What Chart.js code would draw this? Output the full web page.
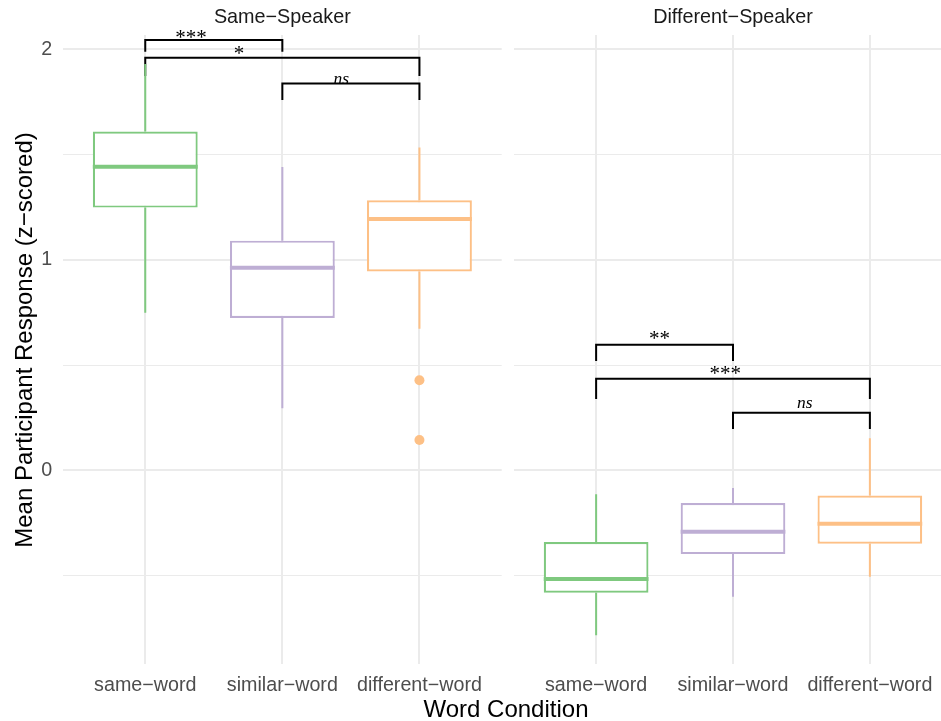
<!DOCTYPE html>
<html>
<head>
<meta charset="utf-8">
<script src="https://cdn.jsdelivr.net/npm/chart.js@4.4.1/dist/chart.umd.min.js"></script>
<style>
  html, body { margin: 0; padding: 0; background: #fff; overflow: hidden; }
  #wrap { position: relative; width: 941px; height: 721px; overflow: hidden; }
  #left { position: absolute; left: 0; top: 0; }
  #right { position: absolute; left: 514px; top: 0; }
</style>
</head>
<body>
<div id="wrap">
  <canvas id="left" width="941" height="721"></canvas>
  <canvas id="right" width="438" height="721"></canvas>
</div>
<script>
// ---- data ----
const categories = ['same−word', 'similar−word', 'different−word'];
const facetTitles = ['Same−Speaker', 'Different−Speaker'];
const yTickValues = [-0.5, 0, 0.5, 1, 1.5, 2];
const yAxisMin = -0.92;
const yAxisMax = 2.068;
const boxColors = ['#7fc97f', '#beaed4', '#fdc086'];

// Same-Speaker: whisker ends, quartiles and medians per word condition
const sameLow    = [0.749, 0.295, 0.673];
const sameQ1     = [1.248, 0.724, 0.945];
const sameMedian = [1.442, 0.962, 1.194];
const sameQ3     = [1.609, 1.091, 1.283];
const sameHigh   = [1.930, 1.441, 1.533];
const sameOutlierCat = [3, 3];
const sameOutlierVal = [0.428, 0.144];

// Different-Speaker
const diffLow    = [-0.784, -0.600, -0.505];
const diffQ1     = [-0.581, -0.398, -0.349];
const diffMedian = [-0.516, -0.292, -0.254];
const diffQ3     = [-0.341, -0.155, -0.120];
const diffHigh   = [-0.114, -0.084, 0.152];
const diffOutlierCat = [];
const diffOutlierVal = [];

// significance brackets (category index from/to, bar height, leg end, label)
const sameBracketFrom  = [1, 1, 2];
const sameBracketTo    = [2, 3, 3];
const sameBracketY     = [2.044, 1.960, 1.838];
const sameBracketTip   = [1.988, 1.873, 1.759];
const sameBracketLabel = ['***', '*', 'ns'];
const sameLabelX       = [1.335, 1.685, 2.43];
const sameLabelY       = [2.072, 1.997, 1.852];

const diffBracketFrom  = [1, 1, 2];
const diffBracketTo    = [2, 3, 3];
const diffBracketY     = [0.597, 0.435, 0.274];
const diffBracketTip   = [0.519, 0.339, 0.196];
const diffBracketLabel = ['**', '***', 'ns'];
const diffLabelX       = [1.465, 1.945, 2.525];
const diffLabelY       = [0.644, 0.476, 0.315];

// ---- drawing helpers ----
const SANS = '"Liberation Sans", Arial, sans-serif';
const SERIF = '"Liberation Serif", "Times New Roman", serif';

function drawInkCentered(ctx, text, cx, cy) {
  const m = ctx.measureText(text);
  ctx.textAlign = 'left';
  ctx.textBaseline = 'alphabetic';
  const x0 = cx - (m.actualBoundingBoxRight - m.actualBoundingBoxLeft) / 2;
  const y0 = cy - (m.actualBoundingBoxDescent - m.actualBoundingBoxAscent) / 2;
  ctx.fillText(text, x0, y0);
}

const facetPlugin = {
  id: 'facet',
  beforeDatasetsDraw(chart, args, o) {
    const { ctx } = chart;
    const xs = chart.scales.x, ys = chart.scales.y;
    ctx.save();
    // brackets
    ctx.strokeStyle = '#000';
    ctx.lineWidth = 2;
    ctx.lineJoin = 'miter';
    o.bracketFrom.forEach((f, i) => {
      const x1 = xs.getPixelForValue(f), x2 = xs.getPixelForValue(o.bracketTo[i]);
      const y = ys.getPixelForValue(o.bracketY[i]);
      const yb = ys.getPixelForValue(o.bracketTip[i]);
      ctx.beginPath();
      ctx.moveTo(x1, yb); ctx.lineTo(x1, y); ctx.lineTo(x2, y); ctx.lineTo(x2, yb);
      ctx.stroke();
    });
    // whiskers
    ctx.lineWidth = 2;
    o.low.forEach((lo, i) => {
      const x = xs.getPixelForValue(i + 1);
      ctx.strokeStyle = boxColors[i];
      ctx.beginPath();
      ctx.moveTo(x, ys.getPixelForValue(o.high[i]));
      ctx.lineTo(x, ys.getPixelForValue(o.q3[i]));
      ctx.moveTo(x, ys.getPixelForValue(o.q1[i]));
      ctx.lineTo(x, ys.getPixelForValue(lo));
      ctx.stroke();
    });
    ctx.restore();
  },
  afterDatasetsDraw(chart, args, o) {
    const { ctx } = chart;
    const ys = chart.scales.y;
    const meta = chart.getDatasetMeta(0);
    ctx.save();
    ctx.lineWidth = 4;
    meta.data.forEach((el, i) => {
      const y = ys.getPixelForValue(o.median[i]);
      ctx.strokeStyle = boxColors[i];
      ctx.beginPath();
      ctx.moveTo(el.x - el.width / 2, y);
      ctx.lineTo(el.x + el.width / 2, y);
      ctx.stroke();
    });
    ctx.restore();
  },
  afterDraw(chart, args, o) {
    const { ctx } = chart;
    const xs = chart.scales.x, ys = chart.scales.y;
    ctx.save();
    ctx.fillStyle = '#000';
    o.bracketLabel.forEach((t, i) => {
      ctx.font = t === 'ns' ? 'italic 17.5px ' + SERIF : '21px ' + SERIF;
      drawInkCentered(ctx, t, xs.getPixelForValue(o.labelX[i]), ys.getPixelForValue(o.labelY[i]));
    });
    // facet strip title
    ctx.fillStyle = '#1a1a1a';
    ctx.font = '19.8px ' + SANS;
    ctx.textAlign = 'center';
    ctx.textBaseline = 'alphabetic';
    ctx.fillText(o.title, xs.getPixelForValue(2), 23.3);
    if (o.axisTitles) {
      ctx.fillStyle = '#000';
      ctx.font = '24px ' + SANS;
      ctx.fillText('Word Condition', 506, 716.5);
      ctx.save();
      ctx.translate(31.5, 340);
      ctx.rotate(-Math.PI / 2);
      ctx.fillText('Mean Participant Response (z−scored)', 0, 0);
      ctx.restore();
    }
    ctx.restore();
  }
};

function makePanel(canvasId, s, withYAxis) {
  const boxData = categories.map((c, i) => ({ x: i + 1, y: [s.q1[i], s.q3[i]] }));
  const outliers = s.outCat.map((c, i) => ({ x: c, y: s.outVal[i] }));
  return new Chart(document.getElementById(canvasId), {
    type: 'bar',
    data: {
      datasets: [
        {
          type: 'bar',
          data: boxData,
          backgroundColor: '#ffffff',
          borderColor: boxColors,
          borderWidth: 2.2,
          borderSkipped: false,
          barPercentage: 0.765,
          categoryPercentage: 1,
          grouped: false
        },
        {
          type: 'scatter',
          data: outliers,
          backgroundColor: boxColors[2],
          borderWidth: 0,
          pointRadius: 5,
          pointHoverRadius: 5
        }
      ]
    },
    options: {
      responsive: false,
      animation: false,
      events: [],
      layout: { padding: { left: 0, right: withYAxis ? 439.3 : 0, top: 35, bottom: 0 } },
      plugins: {
        legend: { display: false },
        tooltip: { enabled: false },
        facet: {
          title: s.title,
          low: s.low, q1: s.q1, median: s.median, q3: s.q3, high: s.high,
          bracketFrom: s.bFrom, bracketTo: s.bTo, bracketY: s.bY, bracketTip: s.bTip,
          bracketLabel: s.bLabel, labelX: s.lX, labelY: s.lY,
          axisTitles: withYAxis
        }
      },
      scales: {
        x: {
          type: 'linear',
          min: 0.4,
          max: 3.6,
          offset: false,
          afterBuildTicks: (sc) => { sc.ticks = categories.map((c, i) => ({ value: i + 1 })); },
          afterFit: (sc) => { sc.height = 57; },
          ticks: {
            callback: (v) => categories[v - 1],
            color: '#4d4d4d',
            font: { family: SANS, size: 19.7 },
            padding: 10,
            maxRotation: 0,
            autoSkip: false
          },
          grid: { color: '#ebebeb', lineWidth: 2, drawTicks: false, offset: false },
          border: { display: false }
        },
        y: {
          type: 'linear',
          min: yAxisMin,
          max: yAxisMax,
          afterBuildTicks: (sc) => { sc.ticks = yTickValues.map(v => ({ value: v })); },
          afterFit: (sc) => { sc.width = withYAxis ? 63 : 0; },
          ticks: {
            display: withYAxis,
            callback: (v) => Number.isInteger(v) ? String(v) : '',
            color: '#4d4d4d',
            font: { family: SANS, size: 19.7 },
            padding: 10.7
          },
          grid: {
            color: '#ebebeb',
            lineWidth: (c) => (c.tick && Number.isInteger(c.tick.value)) ? 2 : 1,
            drawTicks: false
          },
          border: { display: false }
        }
      }
    },
    plugins: [facetPlugin]
  });
}

makePanel('left', {
  title: facetTitles[0],
  low: sameLow, q1: sameQ1, median: sameMedian, q3: sameQ3, high: sameHigh,
  outCat: sameOutlierCat, outVal: sameOutlierVal,
  bFrom: sameBracketFrom, bTo: sameBracketTo, bY: sameBracketY, bTip: sameBracketTip,
  bLabel: sameBracketLabel, lX: sameLabelX, lY: sameLabelY
}, true);

makePanel('right', {
  title: facetTitles[1],
  low: diffLow, q1: diffQ1, median: diffMedian, q3: diffQ3, high: diffHigh,
  outCat: diffOutlierCat, outVal: diffOutlierVal,
  bFrom: diffBracketFrom, bTo: diffBracketTo, bY: diffBracketY, bTip: diffBracketTip,
  bLabel: diffBracketLabel, lX: diffLabelX, lY: diffLabelY
}, false);
</script>
</body>
</html>
